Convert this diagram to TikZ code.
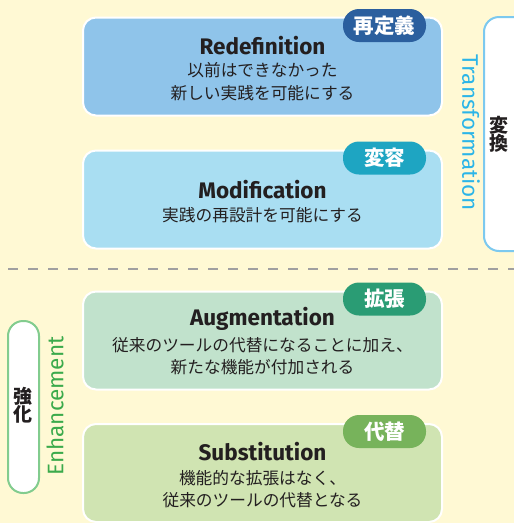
\documentclass[tikz,border=0pt]{standalone}
\usepackage{fontspec}
\setmainfont{Fira Sans}
\newfontfamily\jp{Noto Sans CJK JP}
\definecolor{bg}{HTML}{FFF9D4}
\definecolor{ink}{HTML}{231F20}
\definecolor{fillA}{HTML}{8FC4EA}
\definecolor{badgeA}{HTML}{2B5F9E}
\definecolor{fillB}{HTML}{A9DEF2}
\definecolor{badgeB}{HTML}{1EA5C2}
\definecolor{fillC}{HTML}{C1E2CC}
\definecolor{badgeC}{HTML}{2A9C74}
\definecolor{fillD}{HTML}{D0E4B2}
\definecolor{badgeD}{HTML}{77B35B}
\definecolor{pillBlue}{HTML}{7CC9EF}
\definecolor{txtBlue}{HTML}{2BB5E8}
\definecolor{pillGreen}{HTML}{82CC8E}
\definecolor{txtGreen}{HTML}{3BAA4B}
\definecolor{dashgray}{HTML}{A0A0A0}
\tikzset{
  levelbox/.style={draw=white, line width=2pt, rounded corners=13pt, minimum width=359pt, minimum height=98pt, inner sep=0pt},
  badge/.style={rounded corners=16pt, minimum width=83pt, minimum height=33pt, inner sep=0pt, text=white, font=\jp\bfseries\fontsize{20.5}{20.5}\selectfont},
  title/.style={text=ink, font=\bfseries\fontsize{22.5}{22.5}\selectfont, inner sep=0pt},
  desc/.style={text=ink, font=\jp\fontsize{16.7}{16.7}\selectfont, inner sep=0pt},
  pill/.style={fill=white, line width=2pt, rounded corners=15pt, inner sep=0pt},
  pilltext/.style={text=ink, font=\jp\bfseries\fontsize{19}{19}\selectfont, inner sep=0pt},
  sidetext/.style={font=\fontsize{22.5}{22.5}\selectfont, inner sep=0pt}
}
\begin{document}
\begin{tikzpicture}[x=1pt, y=-1pt]
\useasboundingbox (0,0) rectangle (514,523);
\fill[bg] (0,0) rectangle (514,523);

% dashed separator
\coordinate (dl) at (8,269);
\coordinate (dr) at (514,269);
\draw[dashgray, line width=2.5pt, dash pattern=on 10pt off 10pt] (dl) -- (dr);

% right pill (Transformation)
\node[pill, draw=pillBlue, minimum width=46pt, minimum height=234pt] (tpill) at (507,134) {};
\node[pilltext] (tpill1) at (498.5,125) {変};
\node[pilltext] (tpill2) at (498.5,143) {換};
\node[sidetext, text=txtBlue, rotate=-90] (ttext) at (471,133) {Transformation};

% left pill (Enhancement)
\node[pill, draw=pillGreen, minimum width=31pt, minimum height=172pt] (epill) at (23.5,407) {};
\node[pilltext] (epill1) at (23,396) {強};
\node[pilltext] (epill2) at (23,414) {化};
\node[sidetext, text=txtGreen, rotate=90] (etext) at (55,406) {Enhancement};

% Redefinition
\node[levelbox, fill=fillA] (boxA) at (262.5,66.5) {};
\node[badge, fill=badgeA] (bA) at (384.5,25.5) {再定義};
\node[title] (tA) at (262.5,46) {Redefinition};
\node[desc] (dA1) at (262.5,70) {以前はできなかった};
\node[desc] (dA2) at (262.5,93) {新しい実践を可能にする};

% Modification
\node[levelbox, fill=fillB] (boxB) at (262.5,199.5) {};
\node[badge, fill=badgeB] (bB) at (384.5,158) {変容};
\node[title] (tB) at (262.5,190) {Modification};
\node[desc] (dB1) at (262.5,215) {実践の再設計を可能にする};

% Augmentation
\node[levelbox, fill=fillC] (boxC) at (262.5,340.5) {};
\node[badge, fill=badgeC] (bC) at (384.5,299) {拡張};
\node[title] (tC) at (262.5,319) {Augmentation};
\node[desc] (dC1) at (262.5,345) {従来のツールの代替になることに加え、};
\node[desc] (dC2) at (262.5,367) {新たな機能が付加される};

% Substitution
\node[levelbox, fill=fillD] (boxD) at (262.5,473) {};
\node[badge, fill=badgeD] (bD) at (384.5,431.5) {代替};
\node[title] (tD) at (262.5,452) {Substitution};
\node[desc] (dD1) at (262.5,478) {機能的な拡張はなく、};
\node[desc] (dD2) at (262.5,500) {従来のツールの代替となる};
\end{tikzpicture}
\end{document}
